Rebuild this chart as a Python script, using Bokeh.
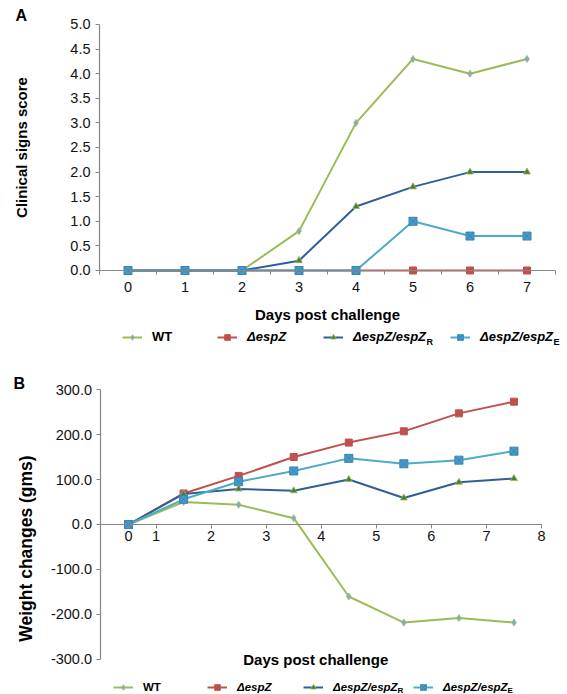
import math
from bokeh.plotting import figure
from bokeh.layouts import column
from bokeh.models import (Legend, LegendItem, Label, FixedTicker, Range1d,
                          NumeralTickFormatter)
from bokeh.embed import file_html
from bokeh.resources import INLINE

# ---------------- data ----------------
days_a = [0, 1, 2, 3, 4, 5, 6, 7]
wt_a = [0, 0, 0, 0.8, 3.0, 4.3, 4.0, 4.3]
espz_a = [0, 0, 0, 0, 0, 0, 0, 0]
r_a = [0, 0, 0, 0.2, 1.3, 1.7, 2.0, 2.0]
e_a = [0, 0, 0, 0, 0, 1.0, 0.7, 0.7]
yticks_a = [0, 0.5, 1, 1.5, 2, 2.5, 3, 3.5, 4, 4.5, 5]
xminor_a = [-0.5, 0.5, 1.5, 2.5, 3.5, 4.5, 5.5, 6.5, 7.5]

days_b = [0.5, 1.5, 2.5, 3.5, 4.5, 5.5, 6.5, 7.5]
wt_b = [0, 50, 44, 14, -160, -218, -208, -218]
espz_b = [0, 69, 108, 150, 182, 207, 247, 273]
r_b = [0, 68, 79, 75, 100, 59, 94, 102]
e_b = [0, 56, 95, 119, 147, 135, 143, 163]
xticks_b = [0.5, 1, 2, 3, 4, 5, 6, 7, 8]
xlabels_b = {0.5: "0"}
yticks_b = [-300, -200, -100, 0, 100, 200, 300]

series_names = ["WT", "\u0394espZ", "\u0394espZ/espZ", "\u0394espZ/espZ"]
subscripts = ["R", "E"]

FONT = "Liberation Sans"
AXIS_COL = "#868686"
TXT = "#000000"
C_WT, C_Z, C_R, C_E = "#9BBB59", "#C0504D", "#2F5F98", "#4BACC6"


def base_fig(w, h, xr, yr):
    p = figure(width=w, height=h, output_backend="svg", toolbar_location=None,
               x_range=Range1d(*xr), y_range=Range1d(*yr), min_border=0)
    p.outline_line_color = None
    p.xgrid.grid_line_color = None
    p.ygrid.grid_line_color = None
    for ax in list(p.xaxis) + list(p.yaxis):
        ax.axis_line_color = AXIS_COL
        ax.axis_line_width = 1.2
        ax.major_tick_line_color = AXIS_COL
        ax.minor_tick_line_color = None
        ax.major_tick_in = 0
        ax.major_tick_out = 4
        ax.major_label_text_font = FONT
        ax.major_label_text_font_size = "14.5px"
        ax.major_label_text_color = "#111111"
        ax.axis_label_text_font = FONT
        ax.axis_label_text_font_size = "15px"
        ax.axis_label_text_font_style = "bold"
        ax.axis_label_text_color = TXT
    return p


def text_label(**kw):
    kw.setdefault("text_font", FONT)
    kw.setdefault("text_font_style", "bold")
    kw.setdefault("text_color", TXT)
    return Label(**kw)


def draw(p, x, ys):
    wt, z, r, e = ys
    rw = [p.line(x, wt, line_color=C_WT, line_width=2),
          p.scatter(x, wt, marker="diamond", size=7, fill_color="#86A8CF",
                    line_color=C_WT, line_width=0.8)]
    rz = [p.line(x, z, line_color=C_Z, line_width=2),
          p.scatter(x, z, marker="square", size=7, fill_color=C_Z,
                    line_color=C_Z)]
    rr = [p.line(x, r, line_color=C_R, line_width=2),
          p.scatter(x, r, marker="triangle", size=7, fill_color="#4E7A35",
                    line_color=C_WT, line_width=0.8)]
    re_ = [p.line(x, e, line_color=C_E, line_width=2),
           p.scatter(x, e, marker="square_x", size=8, fill_color="#4A9CC8",
                     line_color="#3585B5", line_width=1)]
    return [rw, rz, rr, re_]


def add_legends(p, groups, xs, y, fsize, sub_xs, sub_y, sub_size):
    styles = ["bold", "bold italic", "bold italic", "bold italic"]
    for g, name, x, st in zip(groups, series_names, xs, styles):
        leg = Legend(items=[LegendItem(label=name, renderers=g)],
                     location=(x, y), orientation="horizontal",
                     padding=0, margin=0, spacing=0,
                     border_line_color=None, background_fill_alpha=0,
                     glyph_width=20, glyph_height=14, label_height=14,
                     label_standoff=10, label_text_font=FONT,
                     label_text_color=TXT,
                     label_text_font_size=fsize, label_text_font_style=st)
        p.add_layout(leg)
    for s, sx in zip(subscripts, sub_xs):
        p.add_layout(text_label(x=sx, y=sub_y, x_units="screen", y_units="screen",
                                text=s, text_font_size=sub_size,
                                text_baseline="middle"))


# ---------------- panel A ----------------
pA = base_fig(567, 345, (-2.2368, 7.7105), (-1.5244, 5.4878))
gA = draw(pA, days_a, [wt_a, espz_a, r_a, e_a])
pA.xaxis.fixed_location = 0
pA.xaxis.bounds = (-0.5, 7.5)
pA.xaxis.ticker = FixedTicker(ticks=days_a, minor_ticks=xminor_a)
pA.xaxis.major_tick_line_color = None
pA.xaxis.minor_tick_line_color = AXIS_COL
pA.xaxis.minor_tick_in = 0
pA.xaxis.minor_tick_out = 4
pA.xaxis.major_label_standoff = 8
pA.xaxis.axis_label = "Days post challenge"
pA.xaxis.axis_label_standoff = 10
pA.yaxis.fixed_location = -0.5
pA.yaxis.ticker = FixedTicker(ticks=yticks_a)
pA.yaxis.formatter = NumeralTickFormatter(format="0.0")
pA.yaxis.bounds = (0, 5)
pA.yaxis.axis_label = "Clinical signs score"
pA.yaxis.axis_label_standoff = 37
pA.add_layout(text_label(x=15, y=330, x_units="screen", y_units="screen", text="A",
                         text_font_size="16px", text_baseline="middle"))
add_legends(pA, gA, [122, 217, 323, 450], 1, "13px", [426, 553], 4, "9px")

# ---------------- panel B ----------------
pB = base_fig(567, 349, (-1.825, 8.472), (-377.8, 397.8))
gB = draw(pB, days_b, [wt_b, espz_b, r_b, e_b])
pB.xaxis.fixed_location = 0
pB.xaxis.bounds = (0, 8)
pB.xaxis.ticker = FixedTicker(ticks=xticks_b)
pB.xaxis.major_label_overrides = xlabels_b
pB.xaxis.major_label_standoff = 3
pB.yaxis.fixed_location = 0
pB.yaxis.bounds = (-300, 300)
pB.yaxis.ticker = FixedTicker(ticks=yticks_b)
pB.yaxis.formatter = NumeralTickFormatter(format="0.0")
pB.add_layout(text_label(x=25, y=146, x_units="screen", y_units="screen",
                         text="Weight changes (gms)", angle=math.pi / 2,
                         text_font_size="17.5px",
                         text_align="center", text_baseline="middle"))
pB.add_layout(text_label(x=3.9, y=-300, text="Days post challenge",
                         text_font_size="15px",
                         text_align="center", text_baseline="middle"))
pB.add_layout(text_label(x=13, y=311, x_units="screen", y_units="screen", text="B",
                         text_font_size="16px", text_baseline="middle"))
add_legends(pB, gB, [113, 207, 303, 413], 0, "11.5px", [397, 507], 4, "8px")

layout = column(pA, pB, spacing=0)
open("out.html", "w").write(file_html(layout, INLINE))
